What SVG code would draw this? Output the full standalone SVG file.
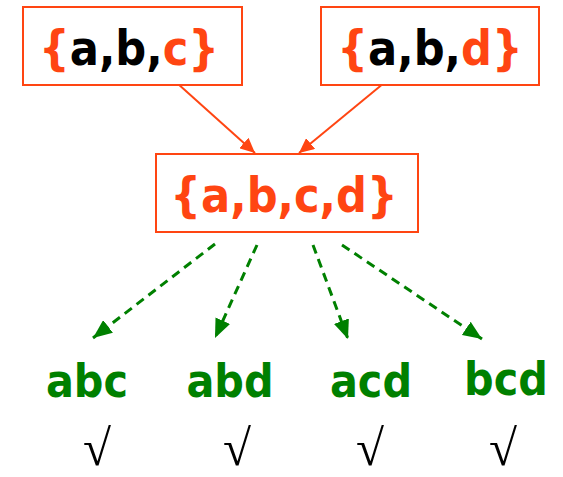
<svg xmlns="http://www.w3.org/2000/svg" width="563" height="477" viewBox="0 0 563 477">
<style>
.box{fill:#fff;stroke:#FF4512;stroke-width:2}
.t{font-family:"DejaVu Sans Condensed","DejaVu Sans",sans-serif;font-weight:bold;font-size:48px;text-anchor:middle;fill:#000}
.o{fill:#FF4512}
.g{font-family:"DejaVu Sans Condensed","DejaVu Sans",sans-serif;font-weight:bold;font-size:46px;text-anchor:middle;fill:#008000}
.ck{font-family:"Liberation Serif",serif;font-size:51px;text-anchor:middle;fill:#000}
.oa{fill:none;stroke:#FF4512;stroke-width:2}
.ga{fill:none;stroke:#008000;stroke-width:3;stroke-dasharray:9,6}
</style>
<defs>
<marker id="mo" markerUnits="userSpaceOnUse" markerWidth="15" markerHeight="14" viewBox="0 0 15 14" refX="15" refY="7" orient="auto"><path d="M0,0 L15,7 L0,14 Z" fill="#FF4512"/></marker>
<marker id="mg" markerUnits="userSpaceOnUse" markerWidth="19" markerHeight="16" viewBox="0 0 19 16" refX="19" refY="8" orient="auto"><path d="M0,0 L19,8 L0,16 Z" fill="#008000"/></marker>
</defs>
<g id="connectors">
<path class="oa" d="M177,83 L255,153" marker-end="url(#mo)"/>
<path class="oa" d="M384,83 L299,153" marker-end="url(#mo)"/>
<path class="ga" d="M215,244 L93,338" marker-end="url(#mg)"/>
<path class="ga" d="M257,245 L215,338" marker-end="url(#mg)"/>
<path class="ga" d="M313,245 L348,339" marker-end="url(#mg)"/>
<path class="ga" d="M342,245 L482,339" marker-end="url(#mg)"/>
</g>
<g id="abc-set">
<rect class="box" x="23" y="7" width="219" height="78"/>
<text class="t" x="129" y="65"><tspan class="o">{</tspan>a,b,<tspan class="o">c}</tspan></text>
</g>
<g id="abd-set">
<rect class="box" x="321" y="7" width="218" height="78"/>
<text class="t" x="430" y="65"><tspan class="o">{</tspan>a,b,<tspan class="o">d}</tspan></text>
</g>
<g id="abcd-set">
<rect class="box" x="156" y="154" width="262" height="78"/>
<text class="t o" x="284" y="212">{a,b,c,d}</text>
</g>
<g id="abc"><text class="g" x="87" y="397">abc</text><text class="ck" x="97" y="465">√</text></g>
<g id="abd"><text class="g" x="230" y="397">abd</text><text class="ck" x="237" y="465">√</text></g>
<g id="acd"><text class="g" x="371" y="397">acd</text><text class="ck" x="370" y="465">√</text></g>
<g id="bcd"><text class="g" x="506" y="395">bcd</text><text class="ck" x="503" y="465">√</text></g>
</svg>
